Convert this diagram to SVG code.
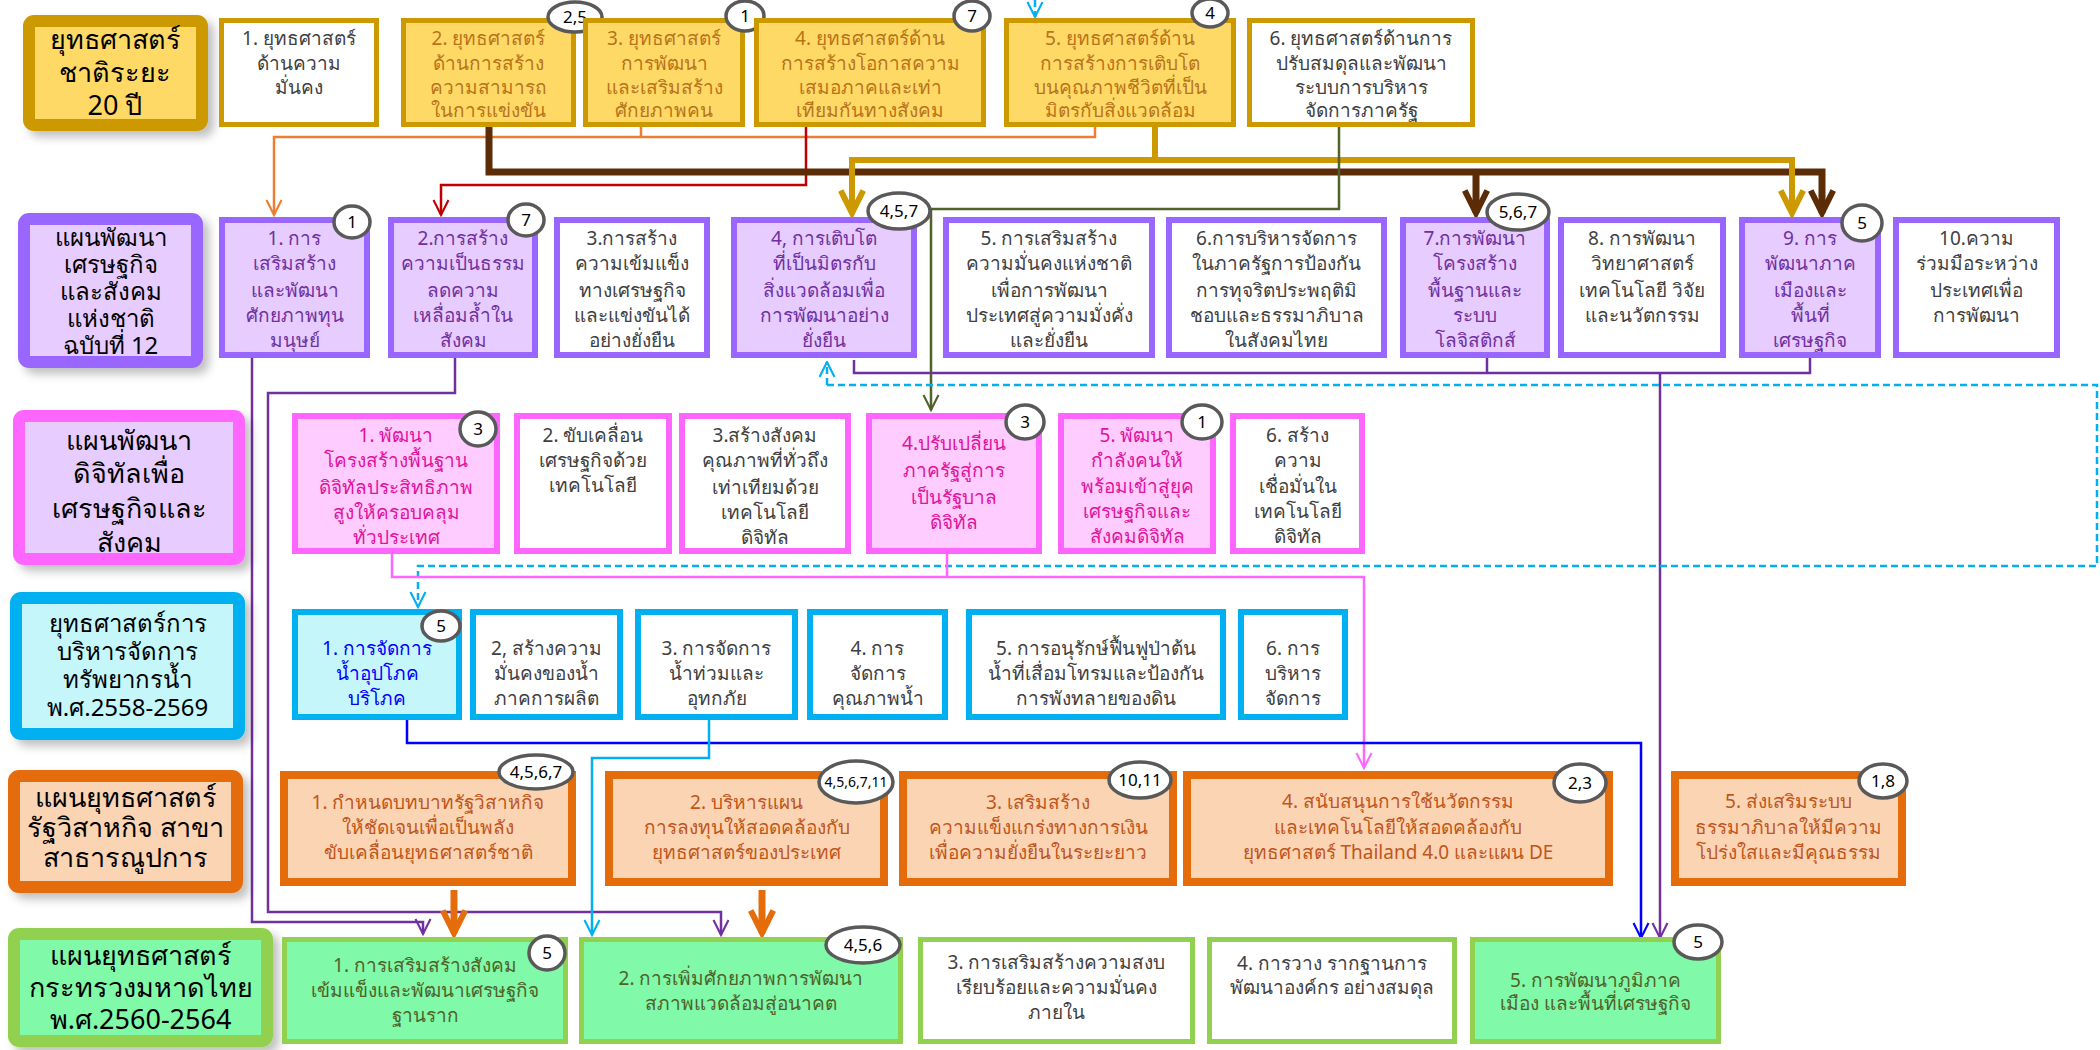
<svg xmlns="http://www.w3.org/2000/svg" width="2100" height="1050" viewBox="0 0 2100 1050">
<style>
text { font-family: "Noto Sans", "DejaVu Sans", sans-serif; text-anchor: middle; }
.t { font-size: 19px; }
.lt { font-size: 27px; fill: #000; }
.lts { font-size: 24px; fill: #000; }
.bt { font-size: 17px; fill: #000; }
.bs { font-size: 14px; fill: #000; }
.badge { fill: #fff; stroke: #595959; stroke-width: 3.5; }
.lab { stroke-width: 12; filter: url(#sh); }
.lg { fill: #FFD966; stroke: #CC9900; }
.lp { fill: #E6CCFF; stroke: #9966FF; }
.lk { fill: #E6CCFF; stroke: #FF66FF; }
.lc { fill: #C5F6FA; stroke: #00B0F0; }
.lo { fill: #FBD4B4; stroke: #E46C0A; }
.lgr { fill: #80F9A8; stroke: #92D050; }
.ng { fill: #FFD966; stroke: #CC9900; stroke-width: 5; }
.ngw { fill: #fff; stroke: #CC9900; stroke-width: 5; }
.np { fill: #E6CCFF; stroke: #9966FF; stroke-width: 6; }
.npw { fill: #fff; stroke: #9966FF; stroke-width: 6; }
.nk { fill: #FFCCFF; stroke: #FF66FF; stroke-width: 6; }
.nkw { fill: #fff; stroke: #FF66FF; stroke-width: 6; }
.nc { fill: #C5F6FA; stroke: #00B0F0; stroke-width: 6; }
.ncw { fill: #fff; stroke: #00B0F0; stroke-width: 6; }
.no { fill: #FBD4B4; stroke: #E46C0A; stroke-width: 8; }
.ngr { fill: #80F9A8; stroke: #92D050; stroke-width: 5; }
.ngrw { fill: #fff; stroke: #92D050; stroke-width: 5; }
.cg { fill: #B8741A; }
.cw { fill: #404040; }
.cp { fill: #7030A0; }
.ck { fill: #E0139C; }
.cb { fill: #0000FF; }
.co { fill: #C0561A; }
.cgr { fill: #4F6228; }
.ln { fill: none; stroke-linejoin: miter; }
</style>
<defs>
<filter id="sh" x="-10%" y="-10%" width="130%" height="130%">
<feDropShadow dx="6" dy="6" stdDeviation="5" flood-color="#000" flood-opacity="0.25"/>
</filter>
<marker id="aOr" viewBox="0 0 12 12" refX="11" refY="6" markerWidth="18" markerHeight="18" markerUnits="userSpaceOnUse" orient="auto"><path d="M1,1 L11,6 L1,11" fill="none" stroke="#ED7D31" stroke-width="1.4"/></marker>
<marker id="aRd" viewBox="0 0 12 12" refX="11" refY="6" markerWidth="18" markerHeight="18" markerUnits="userSpaceOnUse" orient="auto"><path d="M1,1 L11,6 L1,11" fill="none" stroke="#C00000" stroke-width="1.4"/></marker>
<marker id="aOl" viewBox="0 0 12 12" refX="11" refY="6" markerWidth="18" markerHeight="18" markerUnits="userSpaceOnUse" orient="auto"><path d="M1,1 L11,6 L1,11" fill="none" stroke="#4F6228" stroke-width="1.4"/></marker>
<marker id="aPu" viewBox="0 0 12 12" refX="11" refY="6" markerWidth="18" markerHeight="18" markerUnits="userSpaceOnUse" orient="auto"><path d="M1,1 L11,6 L1,11" fill="none" stroke="#7030A0" stroke-width="1.4"/></marker>
<marker id="aCy" viewBox="0 0 12 12" refX="11" refY="6" markerWidth="18" markerHeight="18" markerUnits="userSpaceOnUse" orient="auto"><path d="M1,1 L11,6 L1,11" fill="none" stroke="#00B0F0" stroke-width="1.4"/></marker>
<marker id="aPk" viewBox="0 0 12 12" refX="11" refY="6" markerWidth="18" markerHeight="18" markerUnits="userSpaceOnUse" orient="auto"><path d="M1,1 L11,6 L1,11" fill="none" stroke="#FF66FF" stroke-width="1.4"/></marker>
<marker id="aBl" viewBox="0 0 12 12" refX="11" refY="6" markerWidth="18" markerHeight="18" markerUnits="userSpaceOnUse" orient="auto"><path d="M1,1 L11,6 L1,11" fill="none" stroke="#0000FF" stroke-width="1.4"/></marker>
<marker id="aBr" viewBox="0 0 12 12" refX="10.5" refY="6" markerWidth="30" markerHeight="30" markerUnits="userSpaceOnUse" orient="auto"><path d="M1.5,1.5 L10.5,6 L1.5,10.5" fill="none" stroke="#5B2C06" stroke-width="2.4"/></marker>
<marker id="aGo" viewBox="0 0 12 12" refX="10.5" refY="6" markerWidth="30" markerHeight="30" markerUnits="userSpaceOnUse" orient="auto"><path d="M1.5,1.5 L10.5,6 L1.5,10.5" fill="none" stroke="#CC9900" stroke-width="2.4"/></marker>
<marker id="aOt" viewBox="0 0 12 12" refX="10.5" refY="6" markerWidth="30" markerHeight="30" markerUnits="userSpaceOnUse" orient="auto"><path d="M1.5,1.5 L10.5,6 L1.5,10.5" fill="none" stroke="#E46C0A" stroke-width="2.4"/></marker>
</defs>

<g id="connectors">
<path class="ln" d="M1095,127 V137 H274 V215" stroke="#ED7D31" stroke-width="2.5" marker-end="url(#aOr)"/>
<path class="ln" d="M641,127 V137" stroke="#ED7D31" stroke-width="2.5"/>
<path class="ln" d="M806,127 V185 H441 V215" stroke="#C00000" stroke-width="2.5" marker-end="url(#aRd)"/>
<path class="ln" d="M489,127 V172 H1822 V213" stroke="#5B2C06" stroke-width="7" marker-end="url(#aBr)"/>
<path class="ln" d="M1476,172 V213" stroke="#5B2C06" stroke-width="7" marker-end="url(#aBr)"/>
<path class="ln" d="M1155,127 V160 H852 V213" stroke="#CC9900" stroke-width="6" marker-end="url(#aGo)"/>
<path class="ln" d="M1155,160 H1792 V213" stroke="#CC9900" stroke-width="6" marker-end="url(#aGo)"/>
<path class="ln" d="M1339,127 V209 H931 V410" stroke="#4F6228" stroke-width="2.5" marker-end="url(#aOl)"/>
<path class="ln" d="M1035,0 V17" stroke="#00B0F0" stroke-width="2.5" stroke-dasharray="7 4" marker-end="url(#aCy)"/>
<path class="ln" d="M854,360 V373 H1810 V358" stroke="#7030A0" stroke-width="2.5"/>
<path class="ln" d="M1487,358 V373" stroke="#7030A0" stroke-width="2.5"/>
<path class="ln" d="M1660,373 V938" stroke="#7030A0" stroke-width="2.5" marker-end="url(#aPu)"/>
<path class="ln" d="M252,358 V922 H423 V934" stroke="#7030A0" stroke-width="2.5" marker-end="url(#aPu)"/>
<path class="ln" d="M455,358 V393 H268 V912 H721 V935" stroke="#7030A0" stroke-width="2.5" marker-end="url(#aPu)"/>
<path class="ln" d="M827,385 V362" stroke="#00B0F0" stroke-width="2.5" stroke-dasharray="7 4" marker-end="url(#aCy)"/>
<path class="ln" d="M827,385 H2097 V566 H418 V607" stroke="#00B0F0" stroke-width="2.5" stroke-dasharray="7 4" marker-end="url(#aCy)"/>
<path class="ln" d="M392,554 V577 H1364 V768" stroke="#FF66FF" stroke-width="2.5" marker-end="url(#aPk)"/>
<path class="ln" d="M947,554 V577" stroke="#FF66FF" stroke-width="2.5"/>
<path class="ln" d="M407,720 V743 H1641 V938" stroke="#0000FF" stroke-width="2.5" marker-end="url(#aBl)"/>
<path class="ln" d="M709,720 V758 H592 V935" stroke="#00B0F0" stroke-width="2.5" marker-end="url(#aCy)"/>
<path class="ln" d="M454,890 V933" stroke="#E46C0A" stroke-width="7" marker-end="url(#aOt)"/>
<path class="ln" d="M762,890 V933" stroke="#E46C0A" stroke-width="7" marker-end="url(#aOt)"/>
</g>

<g id="row1">
<g id="L1"><rect class="lab lg" x="29" y="21" width="173" height="104" rx="5"/>
<text class="lt"><tspan x="115" y="49">ยุทธศาสตร์</tspan><tspan x="115" y="82">ชาติระยะ</tspan><tspan x="115" y="115">20 ปี</tspan></text></g>
<g id="S1"><rect class="ngw" x="221.5" y="20.5" width="155" height="104"/>
<text class="t cw"><tspan x="299" y="45">1. ยุทธศาสตร์</tspan><tspan x="299" y="70">ด้านความ</tspan><tspan x="299" y="94">มั่นคง</tspan></text></g>
<g id="S2"><rect class="ng" x="403.5" y="20.5" width="170" height="104"/>
<text class="t cg"><tspan x="488.5" y="45">2. ยุทธศาสตร์</tspan><tspan x="488.5" y="70">ด้านการสร้าง</tspan><tspan x="488.5" y="94">ความสามารถ</tspan><tspan x="488.5" y="117">ในการแข่งขัน</tspan></text>
<ellipse class="badge" cx="575" cy="17" rx="27" ry="15"/><text class="bt" x="575" y="23">2,5</text></g>
<g id="S3"><rect class="ng" x="585.5" y="20.5" width="157" height="104"/>
<text class="t cg"><tspan x="664" y="45">3. ยุทธศาสตร์</tspan><tspan x="664" y="70">การพัฒนา</tspan><tspan x="664" y="94">และเสริมสร้าง</tspan><tspan x="664" y="117">ศักยภาพคน</tspan></text>
<ellipse class="badge" cx="745" cy="16" rx="19" ry="15"/><text class="bt" x="745" y="22">1</text></g>
<g id="S4"><rect class="ng" x="756.5" y="20.5" width="227" height="104"/>
<text class="t cg"><tspan x="870" y="45">4. ยุทธศาสตร์ด้าน</tspan><tspan x="870" y="70">การสร้างโอกาสความ</tspan><tspan x="870" y="94">เสมอภาคและเท่า</tspan><tspan x="870" y="117">เทียมกันทางสังคม</tspan></text>
<ellipse class="badge" cx="972" cy="16" rx="18" ry="15"/><text class="bt" x="972" y="22">7</text></g>
<g id="S5"><rect class="ng" x="1006.5" y="20.5" width="227" height="104"/>
<text class="t cg"><tspan x="1120" y="45">5. ยุทธศาสตร์ด้าน</tspan><tspan x="1120" y="70">การสร้างการเติบโต</tspan><tspan x="1120" y="94">บนคุณภาพชีวิตที่เป็น</tspan><tspan x="1120" y="117">มิตรกับสิ่งแวดล้อม</tspan></text>
<ellipse class="badge" cx="1210" cy="13" rx="18" ry="14"/><text class="bt" x="1210" y="19">4</text></g>
<g id="S6"><rect class="ngw" x="1249.5" y="20.5" width="223" height="104"/>
<text class="t cw"><tspan x="1361" y="45">6. ยุทธศาสตร์ด้านการ</tspan><tspan x="1361" y="70">ปรับสมดุลและพัฒนา</tspan><tspan x="1361" y="94">ระบบการบริหาร</tspan><tspan x="1361" y="117">จัดการภาครัฐ</tspan></text></g>
</g>

<g id="row2">
<g id="L2"><rect class="lab lp" x="24" y="219" width="173" height="143" rx="5"/>
<text class="lts"><tspan x="110.5" y="246">แผนพัฒนา</tspan><tspan x="110.5" y="273">เศรษฐกิจ</tspan><tspan x="110.5" y="300">และสังคม</tspan><tspan x="110.5" y="327">แห่งชาติ</tspan><tspan x="110.5" y="354">ฉบับที่ 12</tspan></text></g>
<g id="P1"><rect class="np" x="222" y="220" width="145" height="135"/>
<text class="t cp"><tspan x="294.5" y="245">1. การ</tspan><tspan x="294.5" y="270">เสริมสร้าง</tspan><tspan x="294.5" y="297">และพัฒนา</tspan><tspan x="294.5" y="322">ศักยภาพทุน</tspan><tspan x="294.5" y="347">มนุษย์</tspan></text>
<ellipse class="badge" cx="352" cy="222" rx="18" ry="16"/><text class="bt" x="352" y="228">1</text></g>
<g id="P2"><rect class="np" x="391" y="220" width="144" height="135"/>
<text class="t cp"><tspan x="463" y="245">2.การสร้าง</tspan><tspan x="463" y="270">ความเป็นธรรม</tspan><tspan x="463" y="297">ลดความ</tspan><tspan x="463" y="322">เหลื่อมล้ำใน</tspan><tspan x="463" y="347">สังคม</tspan></text>
<ellipse class="badge" cx="526" cy="220" rx="18" ry="16"/><text class="bt" x="526" y="226">7</text></g>
<g id="P3"><rect class="npw" x="557" y="220" width="150" height="135"/>
<text class="t cw"><tspan x="632" y="245">3.การสร้าง</tspan><tspan x="632" y="270">ความเข้มแข็ง</tspan><tspan x="632" y="297">ทางเศรษฐกิจ</tspan><tspan x="632" y="322">และแข่งขันได้</tspan><tspan x="632" y="347">อย่างยั่งยืน</tspan></text></g>
<g id="P4"><rect class="np" x="734" y="220" width="180" height="135"/>
<text class="t cp"><tspan x="824" y="245">4, การเติบโต</tspan><tspan x="824" y="270">ที่เป็นมิตรกับ</tspan><tspan x="824" y="297">สิ่งแวดล้อมเพื่อ</tspan><tspan x="824" y="322">การพัฒนาอย่าง</tspan><tspan x="824" y="347">ยั่งยืน</tspan></text>
<ellipse class="badge" cx="899" cy="211" rx="31" ry="18"/><text class="bt" x="899" y="217">4,5,7</text></g>
<g id="P5"><rect class="npw" x="946" y="220" width="206" height="135"/>
<text class="t cw"><tspan x="1049" y="245">5. การเสริมสร้าง</tspan><tspan x="1049" y="270">ความมั่นคงแห่งชาติ</tspan><tspan x="1049" y="297">เพื่อการพัฒนา</tspan><tspan x="1049" y="322">ประเทศสู่ความมั่งคั่ง</tspan><tspan x="1049" y="347">และยั่งยืน</tspan></text></g>
<g id="P6"><rect class="npw" x="1169" y="220" width="215" height="135"/>
<text class="t cw"><tspan x="1276.5" y="245">6.การบริหารจัดการ</tspan><tspan x="1276.5" y="270">ในภาครัฐการป้องกัน</tspan><tspan x="1276.5" y="297">การทุจริตประพฤติมิ</tspan><tspan x="1276.5" y="322">ชอบและธรรมาภิบาล</tspan><tspan x="1276.5" y="347">ในสังคมไทย</tspan></text></g>
<g id="P7"><rect class="np" x="1403" y="220" width="144" height="135"/>
<text class="t cp"><tspan x="1475" y="245">7.การพัฒนา</tspan><tspan x="1475" y="270">โครงสร้าง</tspan><tspan x="1475" y="297">พื้นฐานและ</tspan><tspan x="1475" y="322">ระบบ</tspan><tspan x="1475" y="347">โลจิสติกส์</tspan></text>
<ellipse class="badge" cx="1518" cy="212" rx="31" ry="18"/><text class="bt" x="1518" y="218">5,6,7</text></g>
<g id="P8"><rect class="npw" x="1561" y="220" width="162" height="135"/>
<text class="t cw"><tspan x="1642" y="245">8. การพัฒนา</tspan><tspan x="1642" y="270">วิทยาศาสตร์</tspan><tspan x="1642" y="297">เทคโนโลยี วิจัย</tspan><tspan x="1642" y="322">และนวัตกรรม</tspan></text></g>
<g id="P9"><rect class="np" x="1742" y="220" width="136" height="135"/>
<text class="t cp"><tspan x="1810" y="245">9. การ</tspan><tspan x="1810" y="270">พัฒนาภาค</tspan><tspan x="1810" y="297">เมืองและ</tspan><tspan x="1810" y="322">พื้นที่</tspan><tspan x="1810" y="347">เศรษฐกิจ</tspan></text>
<ellipse class="badge" cx="1862" cy="223" rx="20" ry="18"/><text class="bt" x="1862" y="229">5</text></g>
<g id="P10"><rect class="npw" x="1896" y="220" width="161" height="135"/>
<text class="t cw"><tspan x="1976.5" y="245">10.ความ</tspan><tspan x="1976.5" y="270">ร่วมมือระหว่าง</tspan><tspan x="1976.5" y="297">ประเทศเพื่อ</tspan><tspan x="1976.5" y="322">การพัฒนา</tspan></text></g>
</g>

<g id="row3">
<g id="L3"><rect class="lab lk" x="19" y="416" width="220" height="143" rx="5"/>
<text class="lt"><tspan x="129" y="450">แผนพัฒนา</tspan><tspan x="129" y="483">ดิจิทัลเพื่อ</tspan><tspan x="129" y="518">เศรษฐกิจและ</tspan><tspan x="129" y="552">สังคม</tspan></text></g>
<g id="D1"><rect class="nk" x="295" y="416" width="202" height="135"/>
<text class="t ck"><tspan x="396" y="442">1. พัฒนา</tspan><tspan x="396" y="467">โครงสร้างพื้นฐาน</tspan><tspan x="396" y="494">ดิจิทัลประสิทธิภาพ</tspan><tspan x="396" y="519">สูงให้ครอบคลุม</tspan><tspan x="396" y="544">ทั่วประเทศ</tspan></text>
<ellipse class="badge" cx="478" cy="429" rx="18" ry="17"/><text class="bt" x="478" y="435">3</text></g>
<g id="D2"><rect class="nkw" x="517" y="416" width="152" height="135"/>
<text class="t cw"><tspan x="593" y="442">2. ขับเคลื่อน</tspan><tspan x="593" y="467">เศรษฐกิจด้วย</tspan><tspan x="593" y="492">เทคโนโลยี</tspan></text></g>
<g id="D3"><rect class="nkw" x="682" y="416" width="166" height="135"/>
<text class="t cw"><tspan x="765" y="442">3.สร้างสังคม</tspan><tspan x="765" y="467">คุณภาพที่ทั่วถึง</tspan><tspan x="765" y="494">เท่าเทียมด้วย</tspan><tspan x="765" y="519">เทคโนโลยี</tspan><tspan x="765" y="544">ดิจิทัล</tspan></text></g>
<g id="D4"><rect class="nk" x="869" y="416" width="170" height="135"/>
<text class="t ck"><tspan x="954" y="450">4.ปรับเปลี่ยน</tspan><tspan x="954" y="477">ภาครัฐสู่การ</tspan><tspan x="954" y="504">เป็นรัฐบาล</tspan><tspan x="954" y="529">ดิจิทัล</tspan></text>
<ellipse class="badge" cx="1025" cy="422" rx="19" ry="17"/><text class="bt" x="1025" y="428">3</text></g>
<g id="D5"><rect class="nk" x="1061" y="416" width="152" height="135"/>
<text class="t ck"><tspan x="1137" y="442">5. พัฒนา</tspan><tspan x="1137" y="467">กำลังคนให้</tspan><tspan x="1137" y="493">พร้อมเข้าสู่ยุค</tspan><tspan x="1137" y="518">เศรษฐกิจและ</tspan><tspan x="1137" y="543">สังคมดิจิทัล</tspan></text>
<ellipse class="badge" cx="1202" cy="422" rx="20" ry="17"/><text class="bt" x="1202" y="428">1</text></g>
<g id="D6"><rect class="nkw" x="1233" y="416" width="129" height="135"/>
<text class="t cw"><tspan x="1297.5" y="442">6. สร้าง</tspan><tspan x="1297.5" y="467">ความ</tspan><tspan x="1297.5" y="493">เชื่อมั่นใน</tspan><tspan x="1297.5" y="518">เทคโนโลยี</tspan><tspan x="1297.5" y="543">ดิจิทัล</tspan></text></g>
</g>

<g id="row4">
<g id="L4"><rect class="lab lc" x="16" y="598" width="223" height="136" rx="5"/>
<text class="lts"><tspan x="127.5" y="632">ยุทธศาสตร์การ</tspan><tspan x="127.5" y="660">บริหารจัดการ</tspan><tspan x="127.5" y="688">ทรัพยากรน้ำ</tspan><tspan x="127.5" y="716">พ.ศ.2558-2569</tspan></text></g>
<g id="W1"><rect class="nc" x="295" y="612" width="164" height="105"/>
<text class="t cb"><tspan x="377" y="655">1. การจัดการ</tspan><tspan x="377" y="680">น้ำอุปโภค</tspan><tspan x="377" y="705">บริโภค</tspan></text>
<ellipse class="badge" cx="441" cy="626" rx="19" ry="15"/><text class="bt" x="441" y="632">5</text></g>
<g id="W2"><rect class="ncw" x="473" y="612" width="147" height="105"/>
<text class="t cw"><tspan x="546.5" y="655">2, สร้างความ</tspan><tspan x="546.5" y="680">มั่นคงของน้ำ</tspan><tspan x="546.5" y="705">ภาคการผลิต</tspan></text></g>
<g id="W3"><rect class="ncw" x="638" y="612" width="157" height="105"/>
<text class="t cw"><tspan x="716.5" y="655">3. การจัดการ</tspan><tspan x="716.5" y="680">น้ำท่วมและ</tspan><tspan x="716.5" y="705">อุทกภัย</tspan></text></g>
<g id="W4"><rect class="ncw" x="810" y="612" width="135" height="105"/>
<text class="t cw"><tspan x="877.5" y="655">4. การ</tspan><tspan x="877.5" y="680">จัดการ</tspan><tspan x="877.5" y="705">คุณภาพน้ำ</tspan></text></g>
<g id="W5"><rect class="ncw" x="969" y="612" width="254" height="105"/>
<text class="t cw"><tspan x="1096" y="655">5. การอนุรักษ์ฟื้นฟูป่าต้น</tspan><tspan x="1096" y="680">น้ำที่เสื่อมโทรมและป้องกัน</tspan><tspan x="1096" y="705">การพังทลายของดิน</tspan></text></g>
<g id="W6"><rect class="ncw" x="1241" y="612" width="104" height="105"/>
<text class="t cw"><tspan x="1293" y="655">6. การ</tspan><tspan x="1293" y="680">บริหาร</tspan><tspan x="1293" y="705">จัดการ</tspan></text></g>
</g>

<g id="row5">
<g id="L5"><rect class="lab lo" x="14" y="776" width="223" height="111" rx="5"/>
<text class="lt"><tspan x="125.5" y="807">แผนยุทธศาสตร์</tspan><tspan x="125.5" y="837">รัฐวิสาหกิจ สาขา</tspan><tspan x="125.5" y="867">สาธารณูปการ</tspan></text></g>
<g id="O1"><rect class="no" x="284" y="775" width="288" height="107"/>
<text class="t co"><tspan x="428" y="809">1. กำหนดบทบาทรัฐวิสาหกิจ</tspan><tspan x="428" y="834">ให้ชัดเจนเพื่อเป็นพลัง</tspan><tspan x="428" y="859">ขับเคลื่อนยุทธศาสตร์ชาติ</tspan></text>
<ellipse class="badge" cx="536" cy="772" rx="37" ry="17"/><text class="bt" x="536" y="778">4,5,6,7</text></g>
<g id="O2"><rect class="no" x="609" y="775" width="275" height="107"/>
<text class="t co"><tspan x="746.5" y="809">2. บริหารแผน</tspan><tspan x="746.5" y="834">การลงทุนให้สอดคล้องกับ</tspan><tspan x="746.5" y="859">ยุทธศาสตร์ของประเทศ</tspan></text>
<ellipse class="badge" cx="856" cy="782" rx="37" ry="21"/><text class="bs" x="856" y="787">4,5,6,7,11</text></g>
<g id="O3"><rect class="no" x="903" y="775" width="270" height="107"/>
<text class="t co"><tspan x="1038" y="809">3. เสริมสร้าง</tspan><tspan x="1038" y="834">ความแข็งแกร่งทางการเงิน</tspan><tspan x="1038" y="859">เพื่อความยั่งยืนในระยะยาว</tspan></text>
<ellipse class="badge" cx="1140" cy="780" rx="31" ry="18"/><text class="bt" x="1140" y="786">10,11</text></g>
<g id="O4"><rect class="no" x="1187" y="775" width="422" height="107"/>
<text class="t co"><tspan x="1398" y="808">4. สนับสนุนการใช้นวัตกรรม</tspan><tspan x="1398" y="834">และเทคโนโลยีให้สอดคล้องกับ</tspan><tspan x="1398" y="859">ยุทธศาสตร์ Thailand 4.0 และแผน DE</tspan></text>
<ellipse class="badge" cx="1580" cy="783" rx="26" ry="19"/><text class="bt" x="1580" y="789">2,3</text></g>
<g id="O5"><rect class="no" x="1675" y="775" width="227" height="107"/>
<text class="t co"><tspan x="1788.5" y="808">5. ส่งเสริมระบบ</tspan><tspan x="1788.5" y="834">ธรรมาภิบาลให้มีความ</tspan><tspan x="1788.5" y="859">โปร่งใสและมีคุณธรรม</tspan></text>
<ellipse class="badge" cx="1883" cy="781" rx="24" ry="17"/><text class="bt" x="1883" y="787">1,8</text></g>
</g>

<g id="row6">
<g id="L6"><rect class="lab lgr" x="14" y="934" width="253" height="107" rx="5"/>
<text class="lt"><tspan x="140.5" y="965">แผนยุทธศาสตร์</tspan><tspan x="140.5" y="997">กระทรวงมหาดไทย</tspan><tspan x="140.5" y="1029">พ.ศ.2560-2564</tspan></text></g>
<g id="G1"><rect class="ngr" x="284.5" y="939.5" width="281" height="102"/>
<text class="t cgr"><tspan x="425" y="972">1. การเสริมสร้างสังคม</tspan><tspan x="425" y="997">เข้มแข็งและพัฒนาเศรษฐกิจ</tspan><tspan x="425" y="1022">ฐานราก</tspan></text>
<ellipse class="badge" cx="547" cy="953" rx="18" ry="17"/><text class="bt" x="547" y="959">5</text></g>
<g id="G2"><rect class="ngr" x="581.5" y="939.5" width="319" height="102"/>
<text class="t cgr"><tspan x="741" y="985">2. การเพิ่มศักยภาพการพัฒนา</tspan><tspan x="741" y="1010">สภาพแวดล้อมสู่อนาคต</tspan></text>
<ellipse class="badge" cx="863" cy="945" rx="37" ry="18"/><text class="bt" x="863" y="951">4,5,6</text></g>
<g id="G3"><rect class="ngrw" x="920.5" y="939.5" width="272" height="102"/>
<text class="t cw"><tspan x="1056.5" y="969">3. การเสริมสร้างความสงบ</tspan><tspan x="1056.5" y="994">เรียบร้อยและความมั่นคง</tspan><tspan x="1056.5" y="1019">ภายใน</tspan></text></g>
<g id="G4"><rect class="ngrw" x="1209.5" y="939.5" width="245" height="102"/>
<text class="t cw"><tspan x="1332" y="970">4. การวาง รากฐานการ</tspan><tspan x="1332" y="994">พัฒนาองค์กร อย่างสมดุล</tspan></text></g>
<g id="G5"><rect class="ngr" x="1472.5" y="939.5" width="246" height="102"/>
<text class="t cgr"><tspan x="1595.5" y="987">5. การพัฒนาภูมิภาค</tspan><tspan x="1595.5" y="1010">เมือง และพื้นที่เศรษฐกิจ</tspan></text>
<ellipse class="badge" cx="1698" cy="942" rx="24" ry="17"/><text class="bt" x="1698" y="948">5</text></g>
</g>
</svg>
